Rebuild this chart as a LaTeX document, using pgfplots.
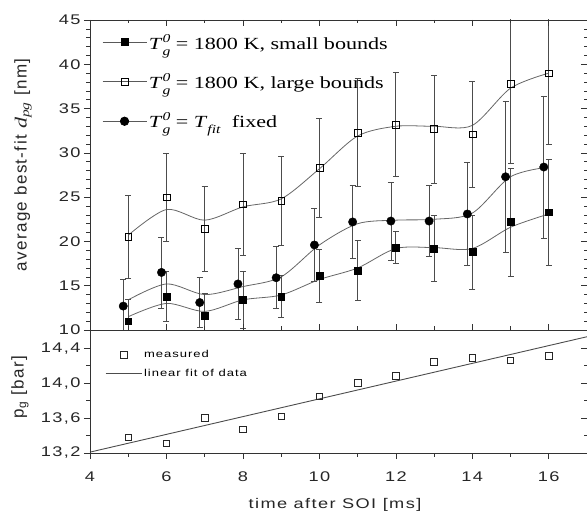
\documentclass[border=0pt]{standalone}
\usepackage{fontspec}
\setmainfont{Liberation Serif}[FakeStretch=1.3]
\newfontfamily\sfx{Liberation Sans}[FakeStretch=1.3,LetterSpace=10]
\newfontfamily\sfy{Liberation Sans}[LetterSpace=8]
\usepackage{pgfplots}
\usepackage{pgfplotstable}
\pgfplotsset{compat=1.18}

\pgfplotstableread{
x y e
5 11.0 2.5
6 13.8 2.8
7 11.6 2.5
8 13.4 3.2
9 13.8 2.4
10 16.1 3.0
11 16.7 3.4
12 19.3 1.8
13 19.2 3.7
14 18.8 4.2
15 22.2 6.1
16 23.3 6.0
}\smallb
\pgfplotstableread{
x y e
5 20.5 4.7
6 25.0 5.0
7 21.4 4.8
8 24.2 5.8
9 24.6 5.0
10 28.3 5.6
11 32.3 6.1
12 33.2 5.9
13 32.7 6.1
14 32.1 6.0
15 37.8 9.0
16 39.0 8.0
}\largeb
\pgfplotstableread{
x y e
4.87 12.7 3.0
5.87 16.5 4.0
6.87 13.1 2.8
7.87 15.2 4.0
8.87 15.9 3.5
9.87 19.6 4.1
10.87 22.2 4.1
11.87 22.3 4.4
12.87 22.3 4.0
13.87 23.1 5.8
14.87 27.3 8.5
15.87 28.4 8.0
}\fixedb
\pgfplotstableread{
x s l f
5 11.5 20.7 13.4
6 13.0 23.6 15.2
7 12.1 22.4 14.0
8 13.4 23.9 14.9
9 13.95 24.8 16.0
10 15.7 28.2 19.6
11 17.0 31.9 22.0
12 19.2 33.0 22.4
13 19.3 33.0 22.5
14 19.2 33.1 23.2
15 21.6 37.3 27.3
16 23.1 39.0 28.4
}\curves
\pgfplotstableread{
x p
5 13.38
6 13.31
7 13.60
8 13.47
9 13.62
10 13.85
11 14.00
12 14.08
13 14.24
14 14.29
15 14.26
16 14.31
}\pres

\newcommand{\Tg}{\textit{T}\rlap{\raisebox{7pt}{\fontsize{12}{12}\selectfont\textit{0}}}\raisebox{-6pt}{\fontsize{12}{12}\selectfont\textit{g}}}

\pgfplotsset{
  every axis/.append style={
    scale only axis, width=497pt, xmin=4, xmax=17,
    axis line style={black!80, line width=0.8pt},
    major tick length=6pt, minor tick length=3.5pt,
    every tick/.style={black!80, line width=0.6pt},
    ticklabel style={font=\sfx\fontsize{14}{14}\selectfont, black!85},
    /pgf/number format/assume math mode=true,
  },
  ebar/.style={error bars/.cd, y dir=both, y explicit,
    error bar style={black!70, line width=0.7pt},
    error mark options={rotate=90, mark size=3pt, black!70, line width=0.7pt}},
  legend image code/.code={\draw[mark repeat=2,mark phase=2,#1] plot coordinates {(0pt,0pt) (22pt,0pt) (44pt,0pt)};},
}

\begin{document}
\begin{tikzpicture}
% ---------- top panel ----------
\begin{axis}[at={(0,123pt)}, anchor=south west, height=310pt,
  ymin=10, ymax=45, ytick={10,15,...,45}, minor y tick num=4,
  xtick=\empty, ytick pos=left, tick align=outside,
  legend style={at={(0.022,0.965)}, anchor=north west, draw=none, fill=none,
    font=\fontsize{17}{17}\selectfont, row sep=19pt, inner sep=1pt},
  legend cell align=left]
\addlegendimage{black!65, line width=0.8pt, mark=square*, mark size=3.4pt, mark options={black, solid}}
\addlegendentry{\Tg\ = 1800 K, small bounds}
\addlegendimage{black!65, line width=0.8pt, mark=square, mark size=3.4pt, mark options={black, fill=white}}
\addlegendentry{\Tg\ = 1800 K, large bounds}
\addlegendimage{black!65, line width=0.8pt, mark=*, mark size=4.2pt, mark options={black}}
\addlegendentry{\Tg\ = \textit{T}\raisebox{-6pt}{\fontsize{12}{12}\selectfont\textit{fit}}\ \ fixed}

\addplot[black!60, line width=0.8pt, smooth, forget plot] table[x=x, y=s] {\curves};
\addplot[black!60, line width=0.8pt, smooth, forget plot] table[x=x, y=l] {\curves};
\addplot[black!60, line width=0.8pt, smooth, forget plot] table[x=x, y=f] {\curves};

\addplot[only marks, mark=*, mark size=4.2pt, black, forget plot, ebar] table[x=x, y=y, y error=e] {\fixedb};
\addplot[only marks, mark=square*, mark size=3.4pt, black, forget plot, ebar] table[x=x, y=y, y error=e] {\smallb};
\addplot[only marks, mark=square, mark size=3.4pt, black, mark options={fill=white}, forget plot, ebar] table[x=x, y=y, y error=e] {\largeb};
\end{axis}
\begin{axis}[at={(0,123pt)}, anchor=south west, height=310pt,
  ymin=10, ymax=45, ytick={10,15,...,45}, minor y tick num=4,
  xtick={4,6,...,16}, minor x tick num=1, xtick pos=both,
  ytick pos=right, tick align=inside, xticklabels={}, yticklabels={}]
\end{axis}
% ---------- bottom panel ----------
\begin{axis}[at={(0,0)}, anchor=south west, height=123pt,
  ymin=13.2, ymax=14.607, ytick={13.2,13.6,14.0,14.4}, minor y tick num=1,
  xtick={4,6,...,16}, minor x tick num=1,
  xtick pos=left, ytick pos=left, tick align=outside,
  yticklabel style={/pgf/number format/.cd, fixed, fixed zerofill, precision=1, use comma},
  xticklabel style={yshift=-9pt},
  legend style={at={(0.028,0.86)}, anchor=north west, draw=none, fill=none,
    font=\sfx\fontsize{10}{10}\selectfont, row sep=6pt, inner sep=1pt},
  legend image code/.code={\draw[mark repeat=2,mark phase=2,#1] plot coordinates {(0pt,0pt) (18pt,0pt) (36pt,0pt)};},
  legend cell align=left]
\addplot[only marks, mark=square, mark size=3.3pt, black!85, line width=0.7pt] table[x=x, y=p] {\pres};
\addlegendentry{measured}
\addplot[black!70, line width=0.9pt] coordinates {(4,13.21) (17,14.53)};
\addlegendentry{linear fit of data}
\end{axis}
\begin{axis}[at={(0,0)}, anchor=south west, height=123pt,
  ymin=13.2, ymax=14.607, ytick={13.2,13.6,14.0,14.4}, minor y tick num=1,
  xtick=\empty, ytick pos=right, tick align=inside, yticklabels={}]
\end{axis}
% ---------- labels ----------
\node[rotate=90, font=\sfy\fontsize{17}{17}\selectfont, black!85] at (-67pt,288pt)
  {average best-fit {\rmfamily\itshape d}\textsubscript{\rmfamily\itshape pg} [nm]};
\node[rotate=90, font=\sfy\fontsize{17}{17}\selectfont, black!85] at (-70pt,66pt)
  {p\textsubscript{g} [bar]};
\node[font=\sfx\fontsize{14}{14}\selectfont, black!85] at (245pt,-52pt) {time after SOI [ms]};
\pgfresetboundingbox
\path (-90pt,-64pt) rectangle (497pt,453pt);
\end{tikzpicture}
\end{document}
